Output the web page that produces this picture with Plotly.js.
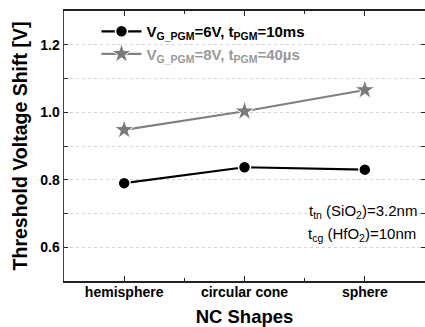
<!DOCTYPE html>
<html>
<head>
<meta charset="utf-8">
<script src="https://cdn.plot.ly/plotly-3.0.1.min.js"></script>
<style>html,body{margin:0;padding:0;background:#fff;}#chart{width:425px;height:327px;}</style>
</head>
<body>
<div id="chart"></div>
<script>
const shapes = ['hemisphere', 'circular cone', 'sphere'];
const shift6V = [0.79, 0.837, 0.830];
const shift8V = [0.948, 1.003, 1.066];
const yTicks = [0.6, 0.8, 1.0, 1.2];
const yTickText = ['0.6', '0.8', '1.0', '1.2'];
const name6V = 'V<sub>G_PGM</sub>=6V, t<sub>PGM</sub>=10ms';
const name8V = '<span style="color:#999999">V<sub>G_PGM</sub>=8V, t<sub>PGM</sub>=40µs</span>';
const note1 = 't<sub>tn</sub> (SiO<sub>2</sub>)=3.2nm';
const note2 = 't<sub>cg</sub> (HfO<sub>2</sub>)=10nm';

const xIdx = shapes.map((s, i) => i);
const FONT = 'Liberation Sans, Arial, sans-serif';

const traces = [
  {x: xIdx, y: shift6V, name: name6V, type: 'scatter', mode: 'lines+markers',
   line: {color: '#000', width: 2.2},
   marker: {symbol: 'circle', size: 12, color: '#000', line: {color: '#fff', width: 1.5}}},
  {x: xIdx, y: shift8V, name: name8V, type: 'scatter', mode: 'lines+markers',
   line: {color: '#808080', width: 2.2},
   marker: {symbol: 'star', size: 15, color: '#7a7a7a', line: {color: '#fff', width: 1}}}
];

const layout = {
  width: 425, height: 327,
  margin: {l: 64, r: 0, t: 11, b: 46},
  paper_bgcolor: '#fff', plot_bgcolor: '#fff',
  font: {family: FONT, color: '#000'},
  showlegend: true,
  legend: {x: 0.09, y: 0.985, xanchor: 'left', yanchor: 'top',
           bgcolor: 'rgba(255,255,255,0)', borderwidth: 0,
           font: {family: FONT, size: 15, color: '#000', weight: 'bold'},
           itemwidth: 40, tracegroupgap: 0},
  xaxis: {
    range: [-0.5, 2.5], tickmode: 'array', tickvals: xIdx, ticktext: shapes,
    showgrid: false, zeroline: false,
    showline: true, linecolor: '#222', linewidth: 2, mirror: 'allticks',
    ticks: 'inside', ticklen: 5, tickwidth: 1.2, tickcolor: '#222',
    minor: {tickvals: [0.5, 1.5], ticks: 'inside', ticklen: 3, tickcolor: '#222', tickwidth: 1},
    tickfont: {family: FONT, size: 14, weight: 'bold'},
    ticklabelstandoff: -3,
    title: {text: 'NC Shapes', font: {family: FONT, size: 18.5, weight: 'bold'}, standoff: 11}
  },
  yaxis: {
    range: [0.5, 1.3], tickmode: 'array', tickvals: yTicks, ticktext: yTickText,
    showgrid: true, gridcolor: '#d4d4d4', gridwidth: 1, griddash: 'dot',
    zeroline: false,
    showline: true, linecolor: '#444', linewidth: 1.5, mirror: 'allticks',
    ticks: 'inside', ticklen: 4, tickwidth: 1.2, tickcolor: '#222',
    minor: {dtick: 0.1, tick0: 0.5, ticks: 'inside', ticklen: 4, tickcolor: '#333', tickwidth: 1,
            showgrid: true, gridcolor: '#d4d4d4', gridwidth: 1, griddash: 'dot'},
    tickfont: {family: FONT, size: 14, weight: 'bold'},
    title: {text: 'Threshold Voltage Shift [V]', font: {family: FONT, size: 19.5, weight: 'bold'}, standoff: 7}
  },
  shapes: [
    {type: 'rect', layer: 'between', xref: 'paper', yref: 'y', x0: 0.003, x1: 0.875, y0: 1.15, y1: 1.297,
     fillcolor: '#fff', line: {width: 0}}
  ],
  annotations: [
    {text: note1, xref: 'paper', yref: 'y', x: 0.98, y: 0.706, xanchor: 'right', yanchor: 'middle',
     showarrow: false, bgcolor: '#fff', borderpad: 0, font: {family: FONT, size: 15, color: '#000'}},
    {text: note2, xref: 'paper', yref: 'y', x: 0.98, y: 0.637, xanchor: 'right', yanchor: 'middle',
     showarrow: false, bgcolor: 'rgba(255,255,255,0)', font: {family: FONT, size: 15, color: '#000'}}
  ]
};

Plotly.newPlot('chart', traces, layout, {displayModeBar: false, staticPlot: true});
</script>
</body>
</html>
